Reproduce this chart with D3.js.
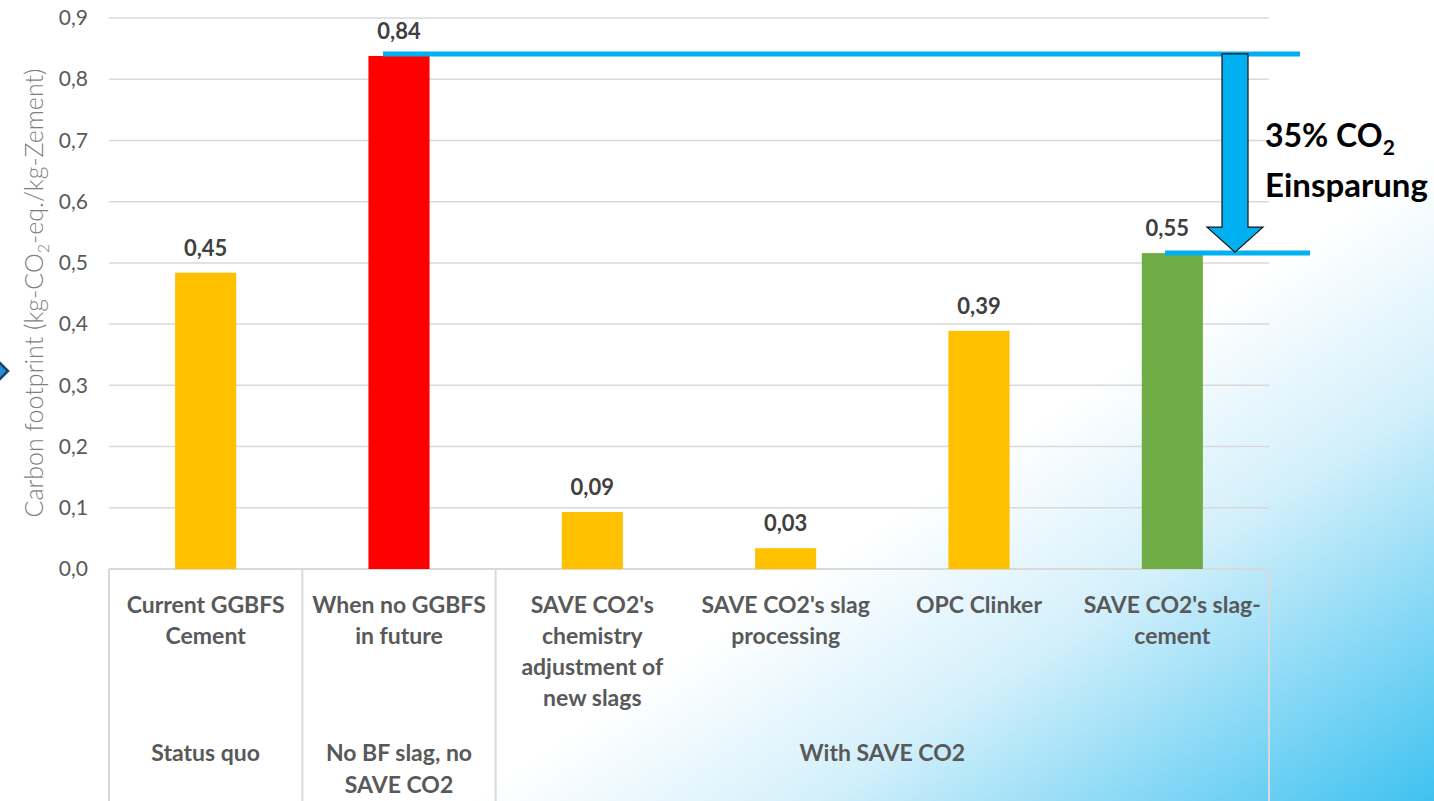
<!DOCTYPE html>
<html>
<head>
<meta charset="utf-8">
<script src="https://cdn.jsdelivr.net/npm/d3@7/dist/d3.min.js"></script>
<style>
  html, body { margin: 0; padding: 0; background: #fff; overflow: hidden; }
  svg { display: block; }
</style>
</head>
<body>
<div id="chart"></div>
<script>
// data
const categories = ["Current GGBFS Cement", "When no GGBFS in future", "SAVE CO2's chemistry adjustment of new slags",
                    "SAVE CO2's slag processing", "OPC Clinker", "SAVE CO2's slag-cement"];
const catLines = [["Current GGBFS", "Cement"], ["When no GGBFS", "in future"],
                  ["SAVE CO2's", "chemistry", "adjustment of", "new slags"],
                  ["SAVE CO2's slag", "processing"], ["OPC Clinker"], ["SAVE CO2's slag-", "cement"]];
const values = [0.484, 0.838, 0.093, 0.034, 0.389, 0.516];
const valueLabels = ["0,45", "0,84", "0,09", "0,03", "0,39", "0,55"];
const barColors = ["#FFC000", "#FF0000", "#FFC000", "#FFC000", "#FFC000", "#70AD47"];
const groups = [
  { name: ["Status quo"], from: 0, to: 0 },
  { name: ["No BF slag, no", "SAVE CO2"], from: 1, to: 1 },
  { name: ["With SAVE CO2"], from: 2, to: 5 }
];
const yTicks = [0, 0.1, 0.2, 0.3, 0.4, 0.5, 0.6, 0.7, 0.8, 0.9];
const savingText = ["35% CO", "Einsparung"];

const W = 1434, H = 801;
const font = "Lato, 'Open Sans', sans-serif";

const svg = d3.select("#chart").append("svg")
              .attr("width", W)
              .attr("height", H);

const defs = svg.append("defs");
const grad = defs.append("linearGradient")
                 .attr("id", "bg")
                 .attr("gradientUnits", "userSpaceOnUse")
                 .attr("x1", 950).attr("y1", 480)
                 .attr("x2", 1250).attr("y2", 930);
grad.append("stop").attr("offset", 0).attr("stop-color", "#ffffff");
grad.append("stop").attr("offset", 0.35).attr("stop-color", "#d4f0fb");
grad.append("stop").attr("offset", 1).attr("stop-color", "#3cc1f0");

svg.append("rect").attr("width", W).attr("height", H).attr("fill", "#fff");
svg.append("rect").attr("width", W).attr("height", H).attr("fill", "url(#bg)");

// scales
const x = d3.scaleBand().domain(categories).range([109, 1269]).padding(0);
const y = d3.scaleLinear().domain([0, 0.9]).range([569, 18]);
const barW = x.bandwidth() * 0.316;

// gridlines
svg.append("g")
   .selectAll("line")
   .data(yTicks.slice(1))
   .join("line")
   .attr("x1", 109).attr("x2", 1269)
   .attr("y1", d => y(d)).attr("y2", d => y(d))
   .attr("stroke", "#d9d9d9")
   .attr("stroke-width", 1.5);

// y axis labels
const yAxis = svg.append("g")
   .attr("transform", "translate(88,0)")
   .call(d3.axisLeft(y).tickValues(yTicks).tickSize(0).tickPadding(0)
           .tickFormat(d => d3.format(".1f")(d).replace(".", ",")));
yAxis.select(".domain").remove();
yAxis.selectAll("text")
     .attr("font-family", font)
     .attr("font-size", "21px")
     .attr("fill", "#595959");

// y axis title
const yt = svg.append("text")
   .attr("transform", "translate(43,293) rotate(-90)")
   .attr("text-anchor", "middle")
   .attr("font-family", font)
   .attr("font-weight", 300)
   .attr("font-size", "25px")
   .attr("fill", "#7f7f7f");
yt.append("tspan").text("Carbon footprint (kg-CO");
yt.append("tspan").attr("dy", 6).attr("font-size", "16px").text("2");
yt.append("tspan").attr("dy", -6).text("-eq./kg-Zement)");

// category axis box
const axisG = svg.append("g");
axisG.append("line")
     .attr("x1", 109).attr("x2", 1269).attr("y1", 569).attr("y2", 569)
     .attr("stroke", "#d9d9d9").attr("stroke-width", 2);
const sepX = [x(categories[0]), x(categories[1]), x(categories[2]), x(categories[5]) + x.bandwidth()];
axisG.selectAll("line.sep")
     .data(sepX)
     .join("line")
     .attr("class", "sep")
     .attr("x1", d => d).attr("x2", d => d)
     .attr("y1", 569).attr("y2", H)
     .attr("stroke", "#d9d9d9").attr("stroke-width", 2);

// category labels
categories.forEach((c, i) => {
  const t = svg.append("text")
     .attr("x", x(c) + x.bandwidth() / 2)
     .attr("y", 613)
     .attr("text-anchor", "middle")
     .attr("font-family", font)
     .attr("font-weight", "bold")
     .attr("font-size", "23px")
     .attr("fill", "#595959");
  catLines[i].forEach((l, j) => {
    t.append("tspan").attr("x", x(c) + x.bandwidth() / 2).attr("dy", j === 0 ? 0 : 31).text(l);
  });
});

// group labels
groups.forEach(g => {
  const cx = (x(categories[g.from]) + x(categories[g.to]) + x.bandwidth()) / 2;
  const t = svg.append("text")
     .attr("x", cx)
     .attr("y", 761)
     .attr("text-anchor", "middle")
     .attr("font-family", font)
     .attr("font-weight", "bold")
     .attr("font-size", "23px")
     .attr("fill", "#595959");
  g.name.forEach((l, j) => {
    t.append("tspan").attr("x", cx).attr("dy", j === 0 ? 0 : 32).text(l);
  });
});

// bars
svg.append("g")
   .selectAll("rect")
   .data(values)
   .join("rect")
   .attr("x", (d, i) => x(categories[i]) + x.bandwidth() / 2 - barW / 2)
   .attr("y", d => y(d))
   .attr("width", barW)
   .attr("height", d => y(0) - y(d))
   .attr("fill", (d, i) => barColors[i]);

// value labels
svg.append("g")
   .selectAll("text")
   .data(values)
   .join("text")
   .attr("x", (d, i) => x(categories[i]) + x.bandwidth() / 2 - (i === 5 ? 5 : 0))
   .attr("y", d => y(d) - 17)
   .attr("text-anchor", "middle")
   .attr("font-family", font)
   .attr("font-weight", "bold")
   .attr("font-size", "22px")
   .attr("fill", "#404040")
   .text((d, i) => valueLabels[i]);

// reference lines
const topY = y(values[1]) - 2;
const botY = y(values[5]);
const blue = "#00B0F0";
svg.append("line")
   .attr("x1", x(categories[1]) + x.bandwidth() / 2 - 16).attr("x2", 1300)
   .attr("y1", topY).attr("y2", topY)
   .attr("stroke", blue).attr("stroke-width", 5);
svg.append("line")
   .attr("x1", 1165).attr("x2", 1310)
   .attr("y1", botY).attr("y2", botY)
   .attr("stroke", blue).attr("stroke-width", 5);

// arrow
const ax = 1235, headTop = botY - 26;
svg.append("path")
   .attr("d", `M${ax - 13},${topY} L${ax + 13},${topY} L${ax + 13},${headTop} L${ax + 28},${headTop} ` +
              `L${ax},${botY - 1} L${ax - 28},${headTop} L${ax - 13},${headTop} Z`)
   .attr("fill", blue)
   .attr("stroke", "#111")
   .attr("stroke-width", 1.2);

// saving text
const st = svg.append("text")
   .attr("x", 1265).attr("y", 147)
   .attr("font-family", font)
   .attr("font-weight", "bold")
   .attr("font-size", "32px")
   .attr("fill", "#000");
st.append("tspan").text(savingText[0]);
st.append("tspan").attr("dy", 8).attr("font-size", "21px").text("2");
svg.append("text")
   .attr("x", 1265).attr("y", 197)
   .attr("font-family", font)
   .attr("font-weight", "bold")
   .attr("font-size", "33px")
   .attr("fill", "#000")
   .text(savingText[1]);

// clipped arrow at left edge
svg.append("path")
   .attr("d", "M-20,358 L-5,358 L8,371 L-5,384 L-20,384 Z")
   .attr("fill", "#1e8fd6")
   .attr("stroke", "#1f3f6e")
   .attr("stroke-width", 2.5);
</script>
</body>
</html>
